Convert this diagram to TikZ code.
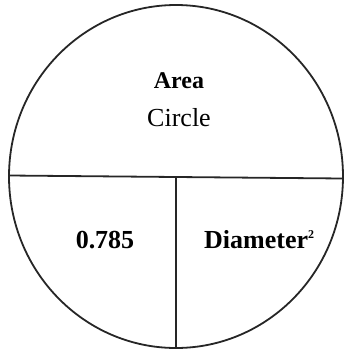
\documentclass[tikz,border=0pt]{standalone}
\usepackage{fontspec}
\setmainfont{Liberation Serif}
\begin{document}
\begin{tikzpicture}[x=1pt,y=-1pt,
  lbl/.style={inner sep=0pt,anchor=base,font=\fontsize{26}{30}\selectfont},
  bld/.style={lbl,font=\fontsize{26}{30}\selectfont\bfseries},
  rule/.style={line width=1.8pt,draw=black!85}]
\useasboundingbox (0,0) rectangle (344,349);
\draw[rule] (176,176.5) ellipse [x radius=167, y radius=171.5];
\coordinate (L) at (9.2,175.5);
\coordinate (R) at (342.8,178.5);
\coordinate (T) at (176,177);
\coordinate (B) at (176,348);
\draw[rule] (L) -- (R);
\draw[rule] (T) -- (B);
\node[bld,font=\fontsize{24}{28}\selectfont\bfseries] (area) at (179,88) {Area};
\node[lbl] (circ) at (179,126) {Circle};
\node[bld] (k) at (105,248) {0.785};
\node[bld,anchor=base west] (d) at (204,248) {Diameter\raisebox{10pt}{\fontsize{12}{14}\selectfont 2}};
\end{tikzpicture}
\end{document}
